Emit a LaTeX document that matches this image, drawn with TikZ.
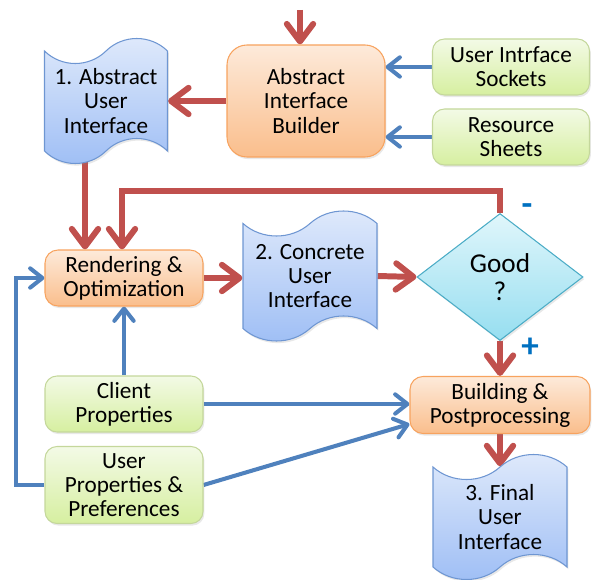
\documentclass[tikz,border=0pt]{standalone}
\usepackage{fontspec}
\setmainfont{Carlito}
\usetikzlibrary{arrows.meta, shapes.geometric, shapes.symbols, shadows, backgrounds}
\definecolor{flowRed}{RGB}{192,80,77}
\definecolor{feedBlue}{RGB}{79,129,189}
\definecolor{signBlue}{RGB}{0,112,192}
\tikzstyle{fBase} = [align=center, font=\fontsize{13.2}{13.7}\selectfont, line width=0.6pt, inner sep=2pt, drop shadow={opacity=0.18, shadow xshift=0.8pt, shadow yshift=-1.2pt}]
\tikzstyle{fModel} = [fBase, tape, tape bend top=in and out, tape bend bottom=in and out, tape bend height=0.5cm, minimum width=2.46cm, minimum height=2.5cm, draw={rgb,255:red,110;green,150;blue,210}, top color={rgb,255:red,224;green,234;blue,251}, bottom color={rgb,255:red,158;green,190;blue,245}]
\tikzstyle{fStep} = [fBase, rectangle, rounded corners=0.26cm, minimum width=3.16cm, minimum height=1.12cm, draw={rgb,255:red,247;green,163;blue,95}, top color={rgb,255:red,253;green,234;blue,218}, bottom color={rgb,255:red,250;green,190;blue,140}]
\tikzstyle{fSource} = [fBase, rectangle, rounded corners=0.24cm, minimum width=3.14cm, minimum height=1.12cm, draw={rgb,255:red,196;green,215;blue,155}, top color={rgb,255:red,243;green,250;blue,230}, bottom color={rgb,255:red,214;green,239;blue,160}]
\tikzstyle{fCheck} = [fBase, diamond, aspect=1.3, inner sep=0pt, minimum width=3.32cm, minimum height=2.54cm, font=\fontsize{15.5}{16}\selectfont, draw={rgb,255:red,75;green,172;blue,198}, top color={rgb,255:red,224;green,246;blue,251}, bottom color={rgb,255:red,150;green,222;blue,240}]
\tikzstyle{fSign} = [text=signBlue, font=\fontsize{20}{20}\selectfont\bfseries, inner sep=0pt]
\tikzstyle{fFlow} = [line width=3.4pt, draw=flowRed, -{Straight Barb[length=10pt, width=15pt, round]}]
\tikzstyle{fFeed} = [line width=2.3pt, draw=feedBlue, -{Straight Barb[length=7pt, width=11pt, round]}]

\begin{document}
\begin{tikzpicture}[node distance=4cm]
    \useasboundingbox (0,0) rectangle (11.84,-11.58);
    \node (aui) [fModel] at (2.12,-2.02) {1. Abstract\\User\\Interface};
    \node (builder) [fStep, right of=aui, minimum height=2.24cm, rounded corners=0.4cm] {Abstract\\Interface\\Builder};
    \node (sockets) [fSource, right of=builder, xshift=0.1cm, yshift=0.68cm] {User Intrface\\Sockets};
    \node (sheets) [fSource, below of=sockets, yshift=2.6cm] {Resource\\Sheets};
    \node (render) [fStep, below of=aui, xshift=0.36cm, yshift=0.46cm] {Rendering \&\\Optimization};
    \node (cui) [fModel, right of=render, xshift=-0.28cm, yshift=0.04cm, minimum width=2.68cm, minimum height=2.6cm] {2. Concrete\\User\\Interface};
    \node (good) [fCheck, right of=cui, xshift=-0.2cm, yshift=-0.02cm] {Good\\?};
    \node (build) [fStep, below of=good, yshift=1.44cm, minimum width=3.6cm, minimum height=1.14cm] {Building \&\\Postprocessing};
    \node (fui) [fModel, below of=build, yshift=1.76cm, minimum width=2.68cm] {3. Final\\User\\Interface};
    \node (client) [fSource, below of=render, yshift=1.48cm, minimum width=3.16cm] {Client\\Properties};
    \node (prefs) [fSource, below of=client, yshift=2.38cm, minimum width=3.16cm, minimum height=1.54cm] {User\\Properties \&\\Preferences};
    \coordinate (input) at (6.0,-0.2);

    \begin{pgfonlayer}{background}
    \draw [fFlow] (input) -- (builder.north -| input);
    \draw [fFlow] (builder.west) -- (aui.east |- builder.west);
    \draw [fFeed] (sockets.west) -- (sockets.west -| builder.east);
    \draw [fFeed] (sheets.west) -- (sheets.west -| builder.east);
    \draw [fFlow] ([xshift=-0.42cm]aui.south) -- ([xshift=-0.42cm]aui.south |- render.north);
    \draw [fFlow] (render.east) -- (render.east -| cui.west);
    \draw [fFlow] (cui.east) -- (good.west);
    \draw [fFlow] (good.north) -- node[fSign, xshift=0.54cm, yshift=-0.16cm] {-} ++(0,0.44) -| ([xshift=-0.04cm]render.north);
    \draw [fFlow] (good.south) -- node[fSign, pos=0.2, xshift=0.6cm] {+} (build.north);
    \draw [fFlow] (build.south) -- (fui.north);
    \draw [fFeed] (client.north) -- (render.south);
    \draw [fFeed] (client.east) -- (client.east -| build.west);
    \draw [fFeed] (prefs.west) -- ++(-0.56,0) |- (render.west);
    \draw [fFeed] (prefs.east) -- ([yshift=-0.38cm]build.west);
    \end{pgfonlayer}
\end{tikzpicture}
\end{document}
